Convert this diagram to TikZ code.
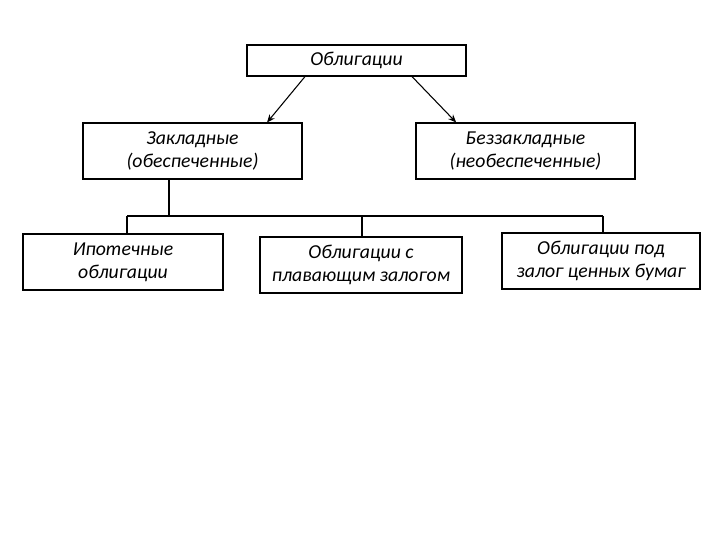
\documentclass[tikz,border=0pt]{standalone}
\usepackage{fontspec}
\setmainfont{Carlito}
\usetikzlibrary{arrows.meta}

\begin{document}
\begin{tikzpicture}[x=0.75pt, y=-0.75pt, >={Stealth[length=6pt,width=5pt]},
  font=\itshape\fontsize{14.8}{17.5}\selectfont,
  kind/.style={rectangle, draw, line width=0.8pt, align=center, inner sep=1pt},
  link/.style={line width=0.8pt}]

  \useasboundingbox (0,0) rectangle (720,540);

  \node[kind, minimum width=164.25pt, minimum height=23.25pt] (bond) at (356.5,60.5) {Облигации};
  \node[kind, minimum width=164.25pt, minimum height=42pt] (secured) at (192.5,151) {Закладные\\(обеспеченные)};
  \node[kind, minimum width=164.25pt, minimum height=42pt] (unsecured) at (525.5,151) {Беззакладные\\(необеспеченные)};
  \node[kind, minimum width=150pt, minimum height=42pt] (mortgage) at (123,262) {Ипотечные\\облигации};
  \node[kind, minimum width=151.5pt, minimum height=42pt] (floating) at (361,265) {Облигации с\\плавающим залогом};
  \node[kind, minimum width=148.5pt, minimum height=42pt] (pledge) at (601,261) {Облигации под\\залог ценных бумаг};

  % arrows from the top box
  \draw[link, ->] ([xshift=-38.6pt]bond.south) -- ([xshift=55.9pt]secured.north);
  \draw[link, ->] ([xshift=41.6pt]bond.south) -- ([xshift=-52pt]unsecured.north);

  % bus under the secured box
  \coordinate (j1) at (127,216);
  \coordinate (j2) at (362,216);
  \coordinate (j3) at (603,216);
  \coordinate (jt) at (169,216);
  \draw[line width=1.4pt] (jt |- secured.south) -- (jt);
  \draw[link] (j1) -- (j3);
  \draw[link] (j1) -- (j1 |- mortgage.north);
  \draw[line width=1.4pt] (j2) -- (j2 |- floating.north);
  \draw[link] (j3) -- (j3 |- pledge.north);

\end{tikzpicture}
\end{document}
